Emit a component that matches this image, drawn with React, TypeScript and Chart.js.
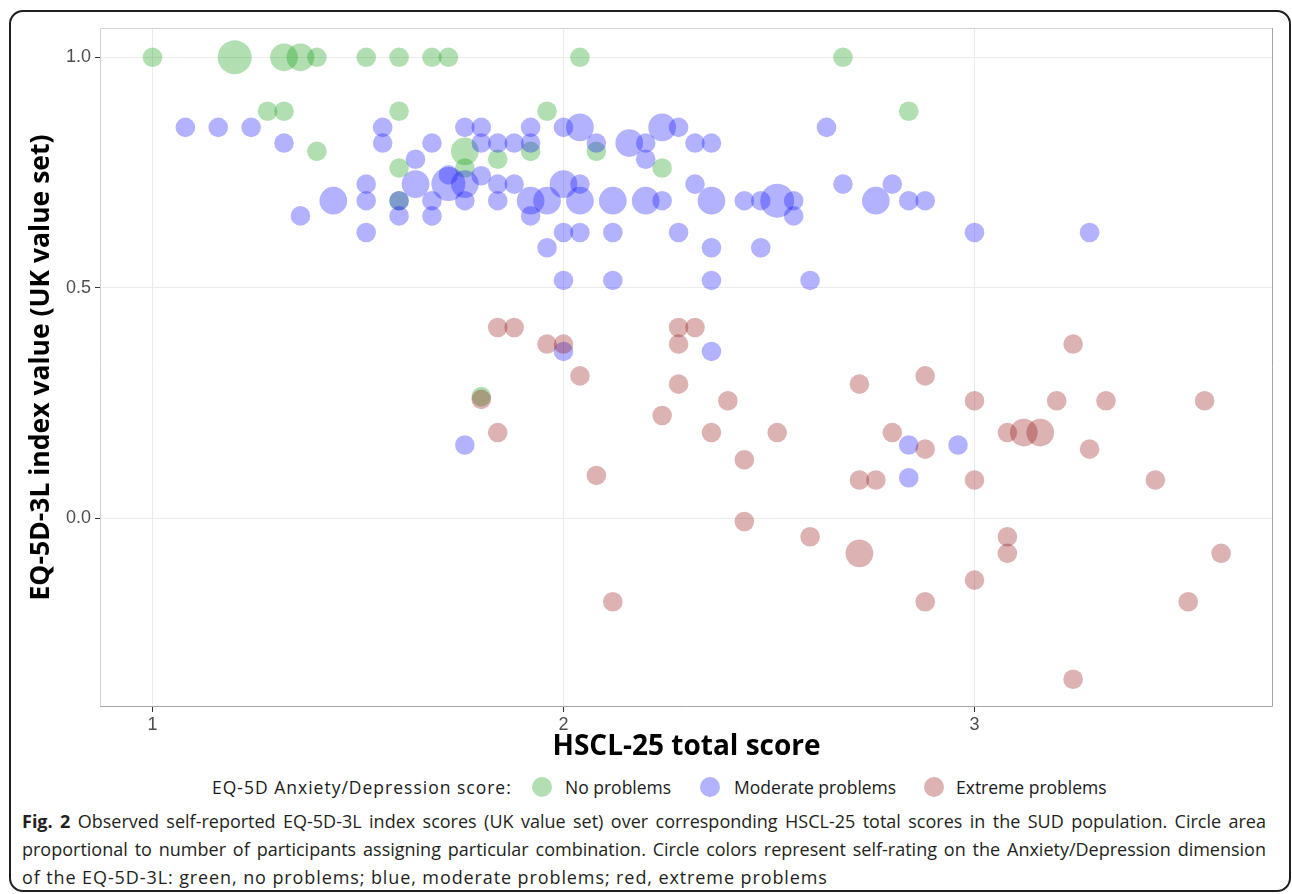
import React, { useEffect, useRef } from "react";
import { Chart, registerables } from "chart.js";

Chart.register(...registerables);

// [HSCL-25 total score, EQ-5D-3L index value, number of participants]
type Pt = [number, number, number];

const xTickValues = [1, 2, 3];
const yTickValues = [0, 0.5, 1.0];
const seriesLabels = ["No problems", "Moderate problems", "Extreme problems"];
const legendTitle = "EQ-5D Anxiety/Depression score:";
const xTitle = "HSCL-25 total score";
const yTitle = "EQ-5D-3L index value (UK value set)";

const noProblems: Pt[] = [
  [1.0, 1.0, 1], [1.2, 1.0, 3], [1.32, 1.0, 2], [1.36, 1.0, 2], [1.4, 1.0, 1],
  [1.52, 1.0, 1], [1.6, 1.0, 1], [1.68, 1.0, 1], [1.72, 1.0, 1], [2.04, 1.0, 1],
  [2.68, 1.0, 1],
  [1.28, 0.883, 1], [1.32, 0.883, 1], [1.6, 0.883, 1], [1.96, 0.883, 1], [2.84, 0.883, 1],
  [1.4, 0.796, 1], [1.76, 0.796, 2], [1.92, 0.796, 1], [2.08, 0.796, 1],
  [1.84, 0.779, 1],
  [1.6, 0.76, 1], [1.76, 0.76, 1], [2.24, 0.76, 1],
  [1.6, 0.689, 1],
  [1.8, 0.264, 1],
];

const moderateProblems: Pt[] = [
  [1.08, 0.848, 1], [1.16, 0.848, 1], [1.24, 0.848, 1], [1.56, 0.848, 1], [1.76, 0.848, 1],
  [1.8, 0.848, 1], [1.92, 0.848, 1], [2.0, 0.848, 1], [2.04, 0.848, 2], [2.24, 0.848, 2],
  [2.28, 0.848, 1], [2.64, 0.848, 1],
  [1.32, 0.814, 1], [1.56, 0.814, 1], [1.68, 0.814, 1], [1.8, 0.814, 1], [1.84, 0.814, 1],
  [1.88, 0.814, 1], [1.92, 0.814, 1], [2.08, 0.814, 1], [2.16, 0.814, 2], [2.2, 0.814, 1],
  [2.32, 0.814, 1], [2.36, 0.814, 1],
  [1.64, 0.779, 1], [2.2, 0.779, 1],
  [1.72, 0.745, 1], [1.8, 0.743, 1],
  [1.52, 0.725, 1], [1.64, 0.725, 2], [1.72, 0.725, 3], [1.76, 0.725, 2], [1.84, 0.725, 1],
  [1.88, 0.725, 1], [2.0, 0.725, 2], [2.04, 0.725, 1], [2.32, 0.725, 1], [2.68, 0.725, 1],
  [2.8, 0.725, 1],
  [1.44, 0.689, 2], [1.52, 0.689, 1], [1.6, 0.689, 1], [1.68, 0.689, 1], [1.76, 0.689, 1],
  [1.84, 0.689, 1], [1.92, 0.689, 2], [1.96, 0.689, 2], [2.04, 0.689, 2], [2.12, 0.689, 2],
  [2.2, 0.689, 2], [2.24, 0.689, 1], [2.36, 0.689, 2], [2.44, 0.689, 1], [2.48, 0.689, 1],
  [2.52, 0.689, 3], [2.56, 0.689, 1], [2.76, 0.689, 2], [2.84, 0.689, 1], [2.88, 0.689, 1],
  [1.36, 0.656, 1], [1.6, 0.656, 1], [1.68, 0.656, 1], [1.92, 0.656, 1], [2.56, 0.656, 1],
  [1.52, 0.62, 1], [2.0, 0.62, 1], [2.04, 0.62, 1], [2.12, 0.62, 1], [2.28, 0.62, 1],
  [3.0, 0.62, 1], [3.28, 0.62, 1],
  [1.96, 0.587, 1], [2.36, 0.587, 1], [2.48, 0.587, 1],
  [2.0, 0.516, 1], [2.12, 0.516, 1], [2.36, 0.516, 1], [2.6, 0.516, 1],
  [2.0, 0.362, 1], [2.36, 0.362, 1],
  [1.76, 0.159, 1], [2.84, 0.159, 1], [2.96, 0.159, 1],
  [2.84, 0.088, 1],
];

const extremeProblems: Pt[] = [
  [1.84, 0.414, 1], [1.88, 0.414, 1], [2.28, 0.414, 1], [2.32, 0.414, 1],
  [1.96, 0.378, 1], [2.0, 0.378, 1], [2.28, 0.378, 1], [3.24, 0.378, 1],
  [2.04, 0.309, 1], [2.88, 0.309, 1],
  [2.28, 0.291, 1], [2.72, 0.291, 1],
  [1.8, 0.258, 1], [2.4, 0.255, 1], [3.0, 0.255, 1], [3.2, 0.255, 1], [3.32, 0.255, 1],
  [3.56, 0.255, 1],
  [2.24, 0.223, 1],
  [1.84, 0.186, 1], [2.36, 0.186, 1], [2.52, 0.186, 1], [2.8, 0.186, 1], [3.08, 0.186, 1],
  [3.12, 0.186, 2], [3.16, 0.186, 2],
  [2.88, 0.15, 1], [3.28, 0.15, 1],
  [2.44, 0.127, 1],
  [2.08, 0.093, 1],
  [2.72, 0.083, 1], [2.76, 0.083, 1], [3.0, 0.083, 1], [3.44, 0.083, 1],
  [2.44, -0.007, 1],
  [2.6, -0.04, 1], [3.08, -0.04, 1],
  [2.72, -0.076, 2], [3.08, -0.076, 1], [3.6, -0.076, 1],
  [3.0, -0.134, 1],
  [2.12, -0.181, 1], [2.88, -0.181, 1], [3.52, -0.181, 1],
  [3.24, -0.349, 1],
];

const seriesColors = ["rgba(0,150,0,0.3)", "rgba(0,0,255,0.3)", "rgba(139,0,0,0.3)"];
const BASE_R = 9.8;

const captionLines = [
  "Observed self-reported EQ-5D-3L index scores (UK value set) over corresponding HSCL-25 total scores in the SUD population. Circle area",
  "proportional to number of participants assigning particular combination. Circle colors represent self-rating on the Anxiety/Depression dimension",
  "of the EQ-5D-3L: green, no problems; blue, moderate problems; red, extreme problems",
];

const panelBorder = {
  id: "panelBorder",
  afterDatasetsDraw(chart: any) {
    const { ctx, chartArea } = chart;
    const { left, right, top, bottom } = chartArea;
    ctx.save();
    ctx.lineWidth = 1;
    ctx.strokeStyle = "#d2d2d2";
    ctx.beginPath();
    ctx.moveTo(left + 0.5, bottom);
    ctx.lineTo(left + 0.5, top + 0.5);
    ctx.lineTo(right, top + 0.5);
    ctx.stroke();
    ctx.strokeStyle = "#a6a6a6";
    ctx.beginPath();
    ctx.moveTo(right - 0.5, top);
    ctx.lineTo(right - 0.5, bottom - 0.5);
    ctx.lineTo(left, bottom - 0.5);
    ctx.stroke();
    ctx.restore();
  },
};

function toBubbles(pts: Pt[]) {
  return pts.map(([x, y, n]) => ({ x, y, r: BASE_R * Math.sqrt(n) }));
}

export default function App() {
  const canvasRef = useRef<HTMLCanvasElement | null>(null);

  useEffect(() => {
    const canvas = canvasRef.current;
    if (!canvas) return;
    const series = [noProblems, moderateProblems, extremeProblems];
    const chart = new Chart(canvas, {
      type: "bubble",
      data: {
        datasets: series.map((pts, i) => ({
          label: seriesLabels[i],
          data: toBubbles(pts),
          backgroundColor: seriesColors[i],
          borderWidth: 0,
          order: 2 - i,
        })),
      },
      options: {
        responsive: false,
        animation: false,
        devicePixelRatio: 1,
        layout: { padding: { left: 0, top: 28, right: 19, bottom: 0 } },
        plugins: {
          legend: { display: false },
          tooltip: { enabled: false },
        },
        scales: {
          x: {
            type: "linear",
            min: 0.8723,
            max: 3.7263,
            afterBuildTicks: (scale: any) => {
              scale.ticks = xTickValues.map((v) => ({ value: v }));
            },
            afterFit: (scale: any) => {
              scale.height = 63;
            },
            ticks: {
              callback: (v: any) => String(v),
              font: { family: "Liberation Sans", size: 18 },
              color: "#4d4d4d",
              padding: 2,
            },
            grid: {
              color: "#ebebeb",
              lineWidth: 1,
              tickLength: 5,
              tickColor: "#333333",
              drawTicks: true,
            },
            border: { display: false },
            title: {
              display: true,
              text: xTitle,
              font: { family: "Open Sans", weight: "bold", size: 28 },
              color: "#000000",
              padding: { top: 0, bottom: 6 },
            },
          },
          y: {
            type: "linear",
            min: -0.4093,
            max: 1.0636,
            afterBuildTicks: (scale: any) => {
              scale.ticks = yTickValues.map((v) => ({ value: v }));
            },
            afterFit: (scale: any) => {
              scale.width = 100;
            },
            ticks: {
              callback: (v: any) => Number(v).toFixed(1),
              font: { family: "Liberation Sans", size: 18 },
              color: "#4d4d4d",
              padding: 4,
            },
            grid: {
              color: "#ebebeb",
              lineWidth: 1,
              tickLength: 5,
              tickColor: "#333333",
              drawTicks: true,
            },
            border: { display: false },
            title: {
              display: true,
              text: yTitle,
              font: { family: "Open Sans", weight: "bold", size: 26.5 },
              color: "#000000",
              padding: { top: 26, bottom: 0 },
            },
          },
        },
      },
      plugins: [panelBorder],
    } as any);
    return () => chart.destroy();
  }, []);

  const dot = (c: string, cx: number) => (
    <span
      style={{
        position: "absolute",
        left: cx - 10,
        top: 777,
        width: 20,
        height: 20,
        borderRadius: "50%",
        background: c,
      }}
    />
  );

  const legendText = (t: string, left: number, extra?: any) => (
    <span
      style={{
        position: "absolute",
        left,
        top: 776,
        height: 22,
        lineHeight: "22px",
        fontFamily: "'Open Sans', sans-serif",
        fontSize: 17.5,
        color: "#1a1a1a",
        whiteSpace: "nowrap",
        ...(extra || {}),
      }}
    >
      {t}
    </span>
  );

  const justified: any = {
    textAlign: "justify",
    textAlignLast: "justify",
    whiteSpace: "normal",
    height: 28,
    overflow: "hidden",
  };

  return (
    <div
      style={{
        position: "fixed",
        left: 0,
        top: 0,
        width: 1292,
        height: 894,
        background: "#ffffff",
        overflow: "hidden",
      }}
    >
      <div
        style={{
          position: "absolute",
          left: 9,
          top: 10,
          width: 1282,
          height: 882,
          border: "2px solid #1e1e1e",
          borderRadius: 14,
          boxSizing: "border-box",
        }}
      />
      <canvas
        ref={canvasRef}
        width={1292}
        height={770}
        style={{ position: "absolute", left: 0, top: 0, display: "block" }}
      />
      {legendText(legendTitle, 212, { letterSpacing: "1px" })}
      {dot(seriesColors[0], 542)}
      {legendText(seriesLabels[0], 565)}
      {dot(seriesColors[1], 710)}
      {legendText(seriesLabels[1], 734)}
      {dot(seriesColors[2], 934)}
      {legendText(seriesLabels[2], 956)}
      <div
        style={{
          position: "absolute",
          left: 22,
          top: 807,
          width: 1244,
          fontFamily: "'Open Sans', sans-serif",
          fontSize: 18,
          lineHeight: "28px",
          color: "#231f20",
          whiteSpace: "nowrap",
        }}
      >
        <div style={justified}>
          <b>Fig. 2</b> {captionLines[0]}
        </div>
        <div style={justified}>{captionLines[1]}</div>
        <div style={{ letterSpacing: "0.9px" }}>{captionLines[2]}</div>
      </div>
    </div>
  );
}
